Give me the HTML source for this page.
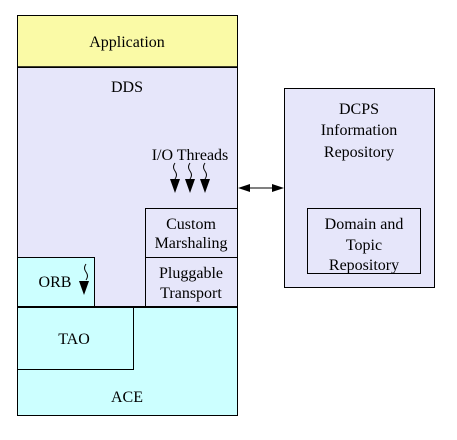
<!DOCTYPE html>
<html><head><style>body{margin:0;background:#fff}svg{display:block}text{font-family:"Liberation Serif",serif;font-size:16px;fill:#000}</style></head><body>
<svg width="457" height="440" viewBox="0 0 457 440">
<rect x="17.5" y="15.5" width="220" height="52" fill="#fafaa6" stroke="#000"/>
<rect x="17.5" y="67.5" width="220" height="240" fill="#e6e6fa" stroke="#000"/>
<rect x="17.5" y="307.5" width="220" height="108" fill="#ccffff" stroke="#000"/>
<rect x="17.5" y="307.5" width="116" height="62" fill="#ccffff" stroke="#000"/>
<rect x="17.5" y="257.5" width="77" height="50" fill="#ccffff" stroke="#000"/>
<rect x="145.5" y="208.5" width="92" height="49" fill="#e6e6fa" stroke="#000"/>
<rect x="145.5" y="257.5" width="92" height="50" fill="#e6e6fa" stroke="#000"/>
<line x1="17" y1="307" x2="238" y2="307" stroke="#000" stroke-width="2"/>
<line x1="17" y1="67" x2="238" y2="67" stroke="#000" stroke-width="1.5"/>
<rect x="284.5" y="88.5" width="150" height="199" fill="#e6e6fa" stroke="#000"/>
<rect x="307.5" y="208.5" width="113" height="65" fill="#e6e6fa" stroke="#000"/>
<line x1="240" y1="188" x2="282" y2="188" stroke="#000"/>
<path d="M238,188L250,184L250,192z M284,188L272,184L272,192z" fill="#000"/>
<g fill="none" stroke="#000">
<path d="M175,163q-3,4 0,8q3,4 0,8M190,163q-3,4 0,8q3,4 0,8M205,163q-3,4 0,8q3,4 0,8M86,264q-3,4 0,8q3,4 0,8"/>
</g>
<path d="M170,179h10l-5,14z M185,179h10l-5,14z M200,179h10l-5,14z M79,281h10l-5,14z" fill="#000"/>
<g text-anchor="middle">
<text x="127" y="47">Application</text>
<text x="127" y="92">DDS</text>
<text x="190" y="160">I/O Threads</text>
<text x="191" y="229">Custom</text>
<text x="191" y="248">Marshaling</text>
<text x="191" y="278">Pluggable</text>
<text x="191" y="298">Transport</text>
<text x="55" y="287">ORB</text>
<text x="74" y="344">TAO</text>
<text x="127" y="402">ACE</text>
<text x="359" y="114">DCPS</text>
<text x="359" y="135">Information</text>
<text x="359" y="157">Repository</text>
<text x="364" y="229">Domain and</text>
<text x="364" y="250">Topic</text>
<text x="364" y="270">Repository</text>
</g>
</svg></body></html>
